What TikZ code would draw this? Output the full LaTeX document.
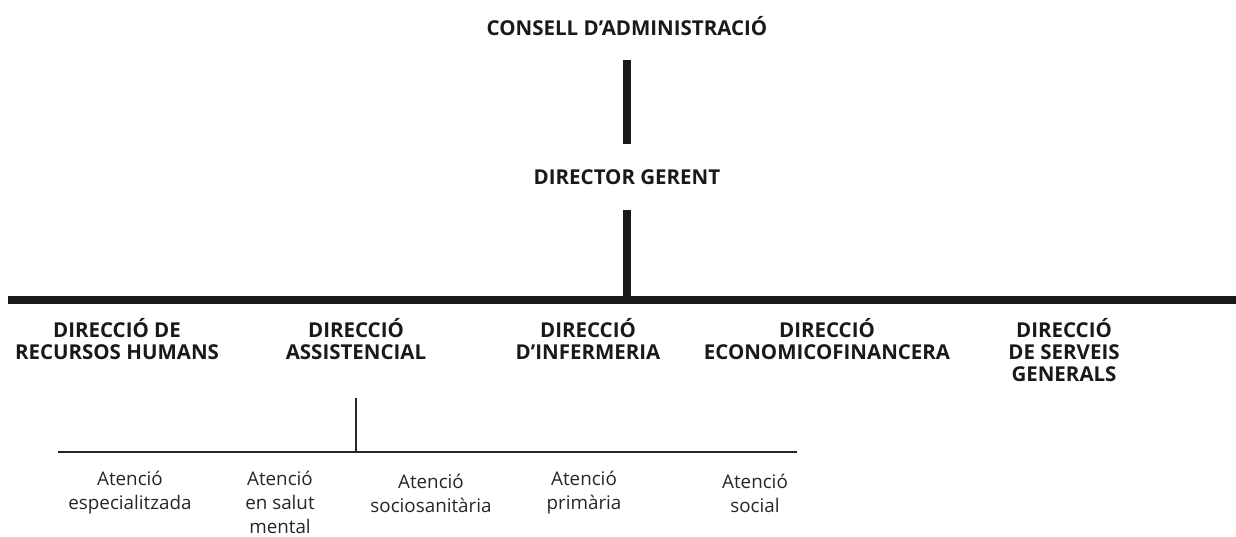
\documentclass[tikz,border=0pt]{standalone}
\usepackage{fontspec}
\setmainfont{Open Sans}
\usetikzlibrary{calc}
\tikzset{
  boss/.style={font=\fontsize{20.5}{22}\selectfont\bfseries, align=center, inner sep=0pt, text=black!90},
  unit/.style={font=\fontsize{18.8}{24}\selectfont, align=center, inner sep=0pt, text=black!85},
  thickline/.style={line width=8pt, color=black!90},
  thinline/.style={line width=2.4pt, color=black!85}
}

\begin{document}
\begin{tikzpicture}[x=1pt, y=-1pt]
			%%%%% START %%%%%
			\useasboundingbox (0, 0) rectangle (1236, 536);
			
			\node[boss] (consell) at (627, 26) {CONSELL D’ADMINISTRACIÓ};
			\node[boss] (gerent) at (627, 177) {DIRECTOR GERENT};
			
			\coordinate (barL) at (8, 300);
			\coordinate (barR) at (1236, 300);
			
			\draw[thickline, shorten <=24pt, shorten >=25pt] (consell) -- (gerent);
			\draw[thickline, shorten <=25pt] (gerent) -- (gerent |- barL);
			\draw[thickline] (barL) -- (barR);
			
			\node[boss] (rrhh) at (117, 339) {DIRECCIÓ DE\\RECURSOS HUMANS};
			\node[boss] (assist) at (356, 339) {DIRECCIÓ\\ASSISTENCIAL};
			\node[boss] (infer) at (588, 339) {DIRECCIÓ\\D’INFERMERIA};
			\node[boss] (econ) at (827, 339) {DIRECCIÓ\\ECONOMICOFINANCERA};
			\node[boss] (serv) at (1064, 350) {DIRECCIÓ\\DE SERVEIS\\GENERALS};
			
			\coordinate (subL) at (58, 452);
			\coordinate (subR) at (797, 452);
			
			\draw[thinline, shorten <=38pt] (assist) -- (assist |- subL);
			\draw[thinline] (subL) -- (subR);
			
			\node[unit] (espec) at (130, 493) {Atenció\\especialitzada};
			\node[unit] (salut) at (280, 502) {Atenció\\en salut\\mental};
			\node[unit] (socsan) at (431, 493) {Atenció\\sociosanitària};
			\node[unit] (prim) at (584, 493) {Atenció\\primària};
			\node[unit] (social) at (755, 493) {Atenció\\social};
			
			%%%%% END %%%%%
\end{tikzpicture}
\end{document}
